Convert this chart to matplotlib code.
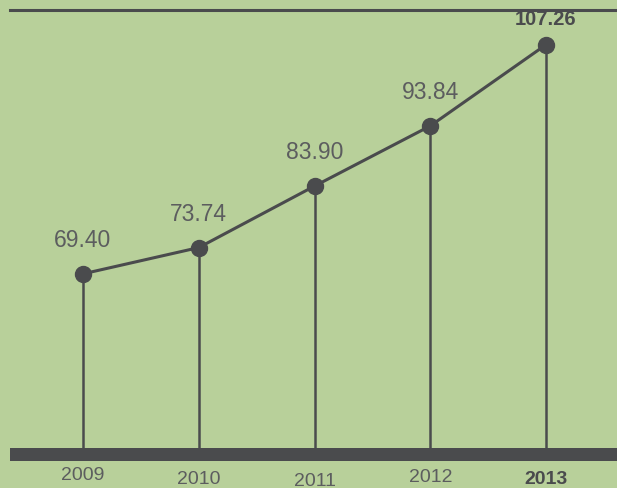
import matplotlib
matplotlib.use("Agg")
import matplotlib.pyplot as plt

years = ["2009", "2010", "2011", "2012", "2013"]
values = [69.40, 73.74, 83.90, 93.84, 107.26]
value_labels = ["69.40", "73.74", "83.90", "93.84", "107.26"]

BG = "#b8d09a"
DARK = "#4a4b4d"
GRAY = "#5c5d5f"

W, H = 617, 488
fig = plt.figure(figsize=(W / 100, H / 100), dpi=100, facecolor=BG)
ax = fig.add_axes([0, 0, 1, 1])
ax.set_facecolor(BG)
ax.axis("off")

x = list(range(len(years)))
ax.set_xlim(-0.717, 4.613)
ax.set_ylim(34.02, 114.64)

base = 40.63
ax.axhspan(38.48, base, xmin=10 / W, xmax=1, color=DARK, lw=0, zorder=1)
fig.add_artist(plt.Line2D([10 / W, 1], [1 - 10 / H, 1 - 10 / H], color=DARK, lw=2.2))

ax.vlines(x, base, values, color=DARK, lw=1.8, zorder=2)
ax.plot(x, values, color=DARK, lw=2.2, marker="o", ms=11.5, zorder=3)

last = len(values) - 1
for i, (xi, v, lab) in enumerate(zip(x, values, value_labels)):
    if i == last:
        ax.annotate(lab, (xi, v), xytext=(0, 18), textcoords="offset points",
                    ha="center", va="center", fontsize=14.5, fontweight="bold",
                    color=DARK, family="Liberation Sans")
    else:
        ax.annotate(lab, (xi, v), xytext=(0, 24), textcoords="offset points",
                    ha="center", va="center", fontsize=16.5,
                    color=GRAY, family="Liberation Sans")

year_px = [476, 479, 481, 477, 479]
for i, (xi, yr) in enumerate(zip(x, years)):
    yfrac = 1 - year_px[i] / H
    ax.text(xi, yfrac, yr, transform=ax.get_xaxis_transform(),
            ha="center", va="center",
            fontsize=14, fontweight="bold" if i == last else "normal",
            color=DARK if i == last else GRAY, family="Liberation Sans")

fig.savefig("out.png", dpi=100, facecolor=BG)
